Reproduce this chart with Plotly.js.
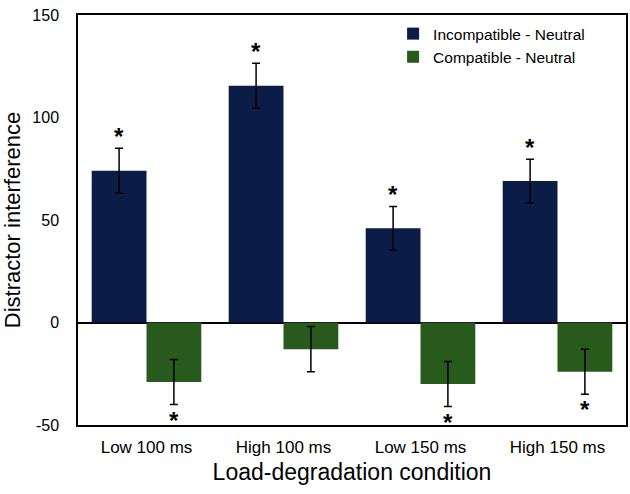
<!DOCTYPE html>
<html>
<head>
<meta charset="utf-8">
<script src="https://cdn.plot.ly/plotly-3.0.1.min.js"></script>
<style>
  body { margin: 0; background: #fff; }
  #plot { width: 630px; height: 494px; }
</style>
</head>
<body>
<div id="plot"></div>
<script>
// conditions on the x axis
let conditions = ['Low 100 ms', 'High 100 ms', 'Low 150 ms', 'High 150 ms']

// interference values (ms) and standard errors
let incompatible = [74, 115.5, 46, 69]
let incompatibleErr = [11, 11, 10.6, 10.6]
let compatible = [-29, -13, -30, -24]
let compatibleErr = [11, 11, 11, 11]

// which bars get a significance star
let incompatibleSig = [true, true, true, true]
let compatibleSig = [true, false, true, true]

// y tick labels
let yTicks = [-50, 0, 50, 100, 150]
let yTickText = ['-50', '0', '50', '100', '150']

let navy = '#0b1c47'
let green = '#275a1c'
let font = 'Liberation Sans, Arial, sans-serif'

let trace1 = {
    x: conditions,
    y: incompatible,
    name: 'Incompatible - Neutral',
    type: 'bar',
    marker: { color: navy },
    error_y: { type: 'data', array: incompatibleErr, color: '#000', thickness: 1.5, width: 4 }
}

let trace2 = {
    x: conditions,
    y: compatible,
    name: 'Compatible - Neutral',
    type: 'bar',
    marker: { color: green },
    error_y: { type: 'data', array: compatibleErr, color: '#000', thickness: 1.5, width: 4 }
}

// stars above / below the error bars
let annotations = []
for (let i = 0; i < conditions.length; i++) {
    if (incompatibleSig[i]) {
        annotations.push({
            x: conditions[i], y: incompatible[i] + incompatibleErr[i],
            xref: 'x', yref: 'y', xshift: -27.5, yshift: -4,
            yanchor: 'bottom', text: '<b>*</b>', showarrow: false,
            font: { family: font, size: 24, color: '#000' }
        })
    }
    if (compatibleSig[i]) {
        annotations.push({
            x: conditions[i], y: compatible[i] - compatibleErr[i],
            xref: 'x', yref: 'y', xshift: 27.5, yshift: 0,
            yanchor: 'top', text: '<b>*</b>', showarrow: false,
            font: { family: font, size: 24, color: '#000' }
        })
    }
}

let layout = {
    width: 630,
    height: 494,
    margin: { l: 78, r: 4, t: 15, b: 69 },
    barmode: 'group',
    bargap: 0.2,
    bargroupgap: 0,
    paper_bgcolor: '#fff',
    plot_bgcolor: '#fff',
    font: { family: font, color: '#000' },
    showlegend: true,
    legend: {
        x: 0.575, y: 0.995, xanchor: 'left', yanchor: 'top',
        font: { family: font, size: 15.5, color: '#000' },
        bgcolor: 'rgba(255,255,255,0)', tracegroupgap: 0
    },
    xaxis: {
        showline: true, mirror: true, linecolor: '#000', linewidth: 1.5,
        ticks: '', tickfont: { size: 17 }, ticklabelstandoff: 6,
        title: { text: 'Load-degradation condition', font: { size: 23 }, standoff: 8 }
    },
    yaxis: {
        range: [-50, 150], tickvals: yTicks, ticktext: yTickText,
        showline: true, mirror: true, linecolor: '#000', linewidth: 1.5,
        showgrid: false, zeroline: true, zerolinecolor: '#000', zerolinewidth: 1.5,
        ticks: '', tickfont: { size: 16 }, ticklabelstandoff: 14,
        title: { text: 'Distractor interference', font: { size: 22 }, standoff: 10 }
    },
    annotations: annotations
}

Plotly.newPlot('plot', [trace1, trace2], layout, { displayModeBar: false })
</script>
</body>
</html>
